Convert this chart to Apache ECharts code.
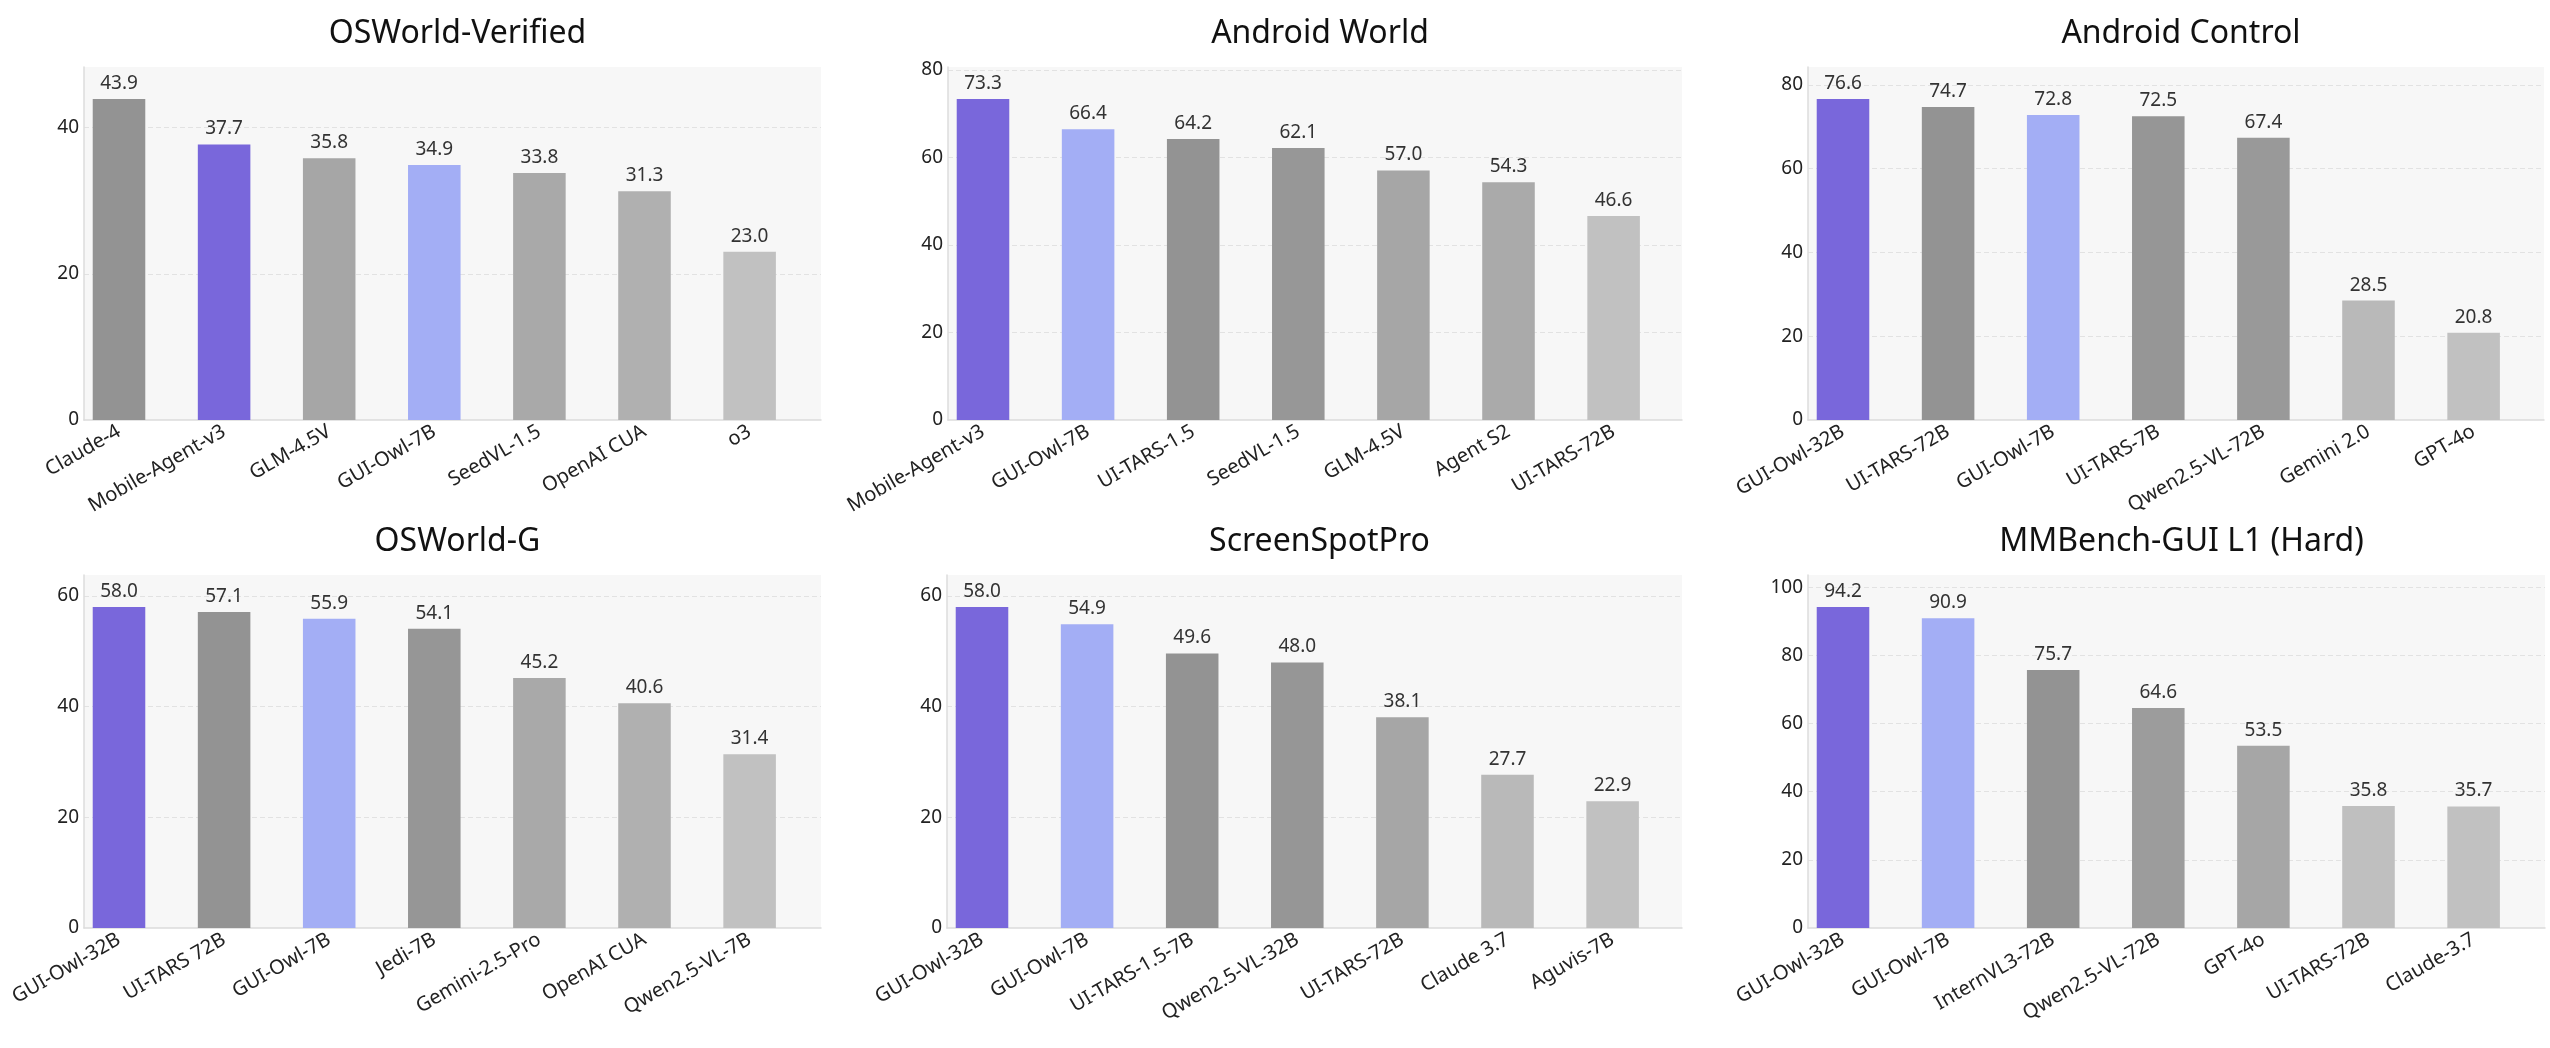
<!DOCTYPE html>
<html>
<head>
<meta charset="utf-8">
<title>GUI agent benchmarks</title>
<script src="https://cdn.jsdelivr.net/npm/echarts@6/dist/echarts.min.js"></script>
<style>
  html, body { margin: 0; padding: 0; background: #fff; }
  #chart { width: 2550px; height: 1048px; }
</style>
</head>
<body>
<div id="chart"></div>
<script>
// ---- data ----
const osworldVerifiedModels = ['Claude-4', 'Mobile-Agent-v3', 'GLM-4.5V', 'GUI-Owl-7B', 'SeedVL-1.5', 'OpenAI CUA', 'o3'];
const osworldVerifiedScores = [43.9, 37.7, 35.8, 34.9, 33.8, 31.3, 23.0];

const androidWorldModels = ['Mobile-Agent-v3', 'GUI-Owl-7B', 'UI-TARS-1.5', 'SeedVL-1.5', 'GLM-4.5V', 'Agent S2', 'UI-TARS-72B'];
const androidWorldScores = [73.3, 66.4, 64.2, 62.1, 57.0, 54.3, 46.6];

const androidControlModels = ['GUI-Owl-32B', 'UI-TARS-72B', 'GUI-Owl-7B', 'UI-TARS-7B', 'Qwen2.5-VL-72B', 'Gemini 2.0', 'GPT-4o'];
const androidControlScores = [76.6, 74.7, 72.8, 72.5, 67.4, 28.5, 20.8];

const osworldGModels = ['GUI-Owl-32B', 'UI-TARS 72B', 'GUI-Owl-7B', 'Jedi-7B', 'Gemini-2.5-Pro', 'OpenAI CUA', 'Qwen2.5-VL-7B'];
const osworldGScores = [58.0, 57.1, 55.9, 54.1, 45.2, 40.6, 31.4];

const screenSpotProModels = ['GUI-Owl-32B', 'GUI-Owl-7B', 'UI-TARS-1.5-7B', 'Qwen2.5-VL-32B', 'UI-TARS-72B', 'Claude 3.7', 'Aguvis-7B'];
const screenSpotProScores = [58.0, 54.9, 49.6, 48.0, 38.1, 27.7, 22.9];

const mmbenchModels = ['GUI-Owl-32B', 'GUI-Owl-7B', 'InternVL3-72B', 'Qwen2.5-VL-72B', 'GPT-4o', 'UI-TARS-72B', 'Claude-3.7'];
const mmbenchScores = [94.2, 90.9, 75.7, 64.6, 53.5, 35.8, 35.7];

// ---- styles ----
const PURPLE = '#7967db';
const BLUE = '#a3aef5';
const FONT = 'Noto Sans';

const panels = [
  { title: 'OSWorld-Verified', cats: osworldVerifiedModels, vals: osworldVerifiedScores,
    colors: ['#939393', PURPLE, '#a6a6a6', BLUE, '#a9a9a9', '#b0b0b0', '#c1c1c1'],
    left: 84, top: 67, width: 737 },
  { title: 'Android World', cats: androidWorldModels, vals: androidWorldScores,
    colors: [PURPLE, BLUE, '#939393', '#979797', '#a6a6a6', '#aaaaaa', '#c1c1c1'],
    left: 948, top: 67, width: 734 },
  { title: 'Android Control', cats: androidControlModels, vals: androidControlScores,
    colors: [PURPLE, '#939393', BLUE, '#969696', '#999999', '#b9b9b9', '#c1c1c1'],
    left: 1808, top: 67, width: 736 },
  { title: 'OSWorld-G', cats: osworldGModels, vals: osworldGScores,
    colors: [PURPLE, '#939393', BLUE, '#969696', '#a9a9a9', '#b0b0b0', '#c1c1c1'],
    left: 84, top: 575, width: 737 },
  { title: 'ScreenSpotPro', cats: screenSpotProModels, vals: screenSpotProScores,
    colors: [PURPLE, BLUE, '#939393', '#969696', '#a6a6a6', '#b9b9b9', '#c1c1c1'],
    left: 947, top: 575, width: 735 },
  { title: 'MMBench-GUI L1 (Hard)', cats: mmbenchModels, vals: mmbenchScores,
    colors: [PURPLE, BLUE, '#939393', '#9c9c9c', '#a6a6a6', '#bfbfbf', '#c1c1c1'],
    left: 1808, top: 575, width: 737 },
];
const PLOT_HEIGHT = 353;
// bars sit a bit left of centre in each plot (narrow left pad, wide right pad)
const CAT_STEP = 105.1;
const LEFT_PAD = 35;

const chart = echarts.init(document.getElementById('chart'));

const option = {
  backgroundColor: '#fff',
  animation: false,
  textStyle: { fontFamily: FONT },
  title: [],
  grid: [],
  xAxis: [],
  yAxis: [],
  series: [],
};

panels.forEach((p, i) => {
  const yMax = Math.max(...p.vals) * 1.1;
  const bg = 2 * i;
  const bars = 2 * i + 1;

  option.title.push({
    text: p.title,
    left: p.left + p.width / 2,
    top: p.top - 54,
    textAlign: 'center',
    textStyle: { fontFamily: FONT, fontSize: 32, fontWeight: 'normal', color: '#111' },
  });

  // background plot: grey fill, spines, y ticks and dashed grid
  option.grid.push({
    left: p.left,
    top: p.top,
    width: p.width,
    height: PLOT_HEIGHT,
    show: true,
    backgroundColor: '#f7f7f7',
    borderWidth: 0,
  });
  option.xAxis.push({
    type: 'value',
    gridIndex: bg,
    min: 0,
    max: 1,
    axisTick: { show: false },
    axisLabel: { show: false },
    splitLine: { show: false },
    axisLine: { show: true, lineStyle: { color: '#dcdcdc', width: 1.5 } },
  });
  option.yAxis.push({
    type: 'value',
    gridIndex: bg,
    min: 0,
    max: yMax,
    interval: 20,
    axisTick: { show: false },
    axisLine: { show: true, lineStyle: { color: '#dcdcdc', width: 1.5 } },
    axisLabel: {
      margin: 5,
      fontSize: 19,
      color: '#222',
      fontFamily: FONT,
      showMaxLabel: false,
      formatter: (v) => (v % 20 === 0 ? String(v) : ''),
    },
    splitLine: {
      show: true,
      showMinLine: false,
      showMaxLine: false,
      lineStyle: { color: '#e2e2e2', type: [5, 3], width: 1 },
    },
  });

  // bar layer
  option.grid.push({
    left: p.left + LEFT_PAD - CAT_STEP / 2,
    top: p.top,
    width: CAT_STEP * p.cats.length,
    height: PLOT_HEIGHT,
    show: false,
  });
  option.xAxis.push({
    type: 'category',
    gridIndex: bars,
    data: p.cats,
    axisTick: { show: false },
    axisLine: { show: false },
    axisLabel: {
      interval: 0,
      rotate: 30,
      margin: 10,
      fontSize: 20,
      color: '#222',
      fontFamily: FONT,
    },
  });
  option.yAxis.push({
    type: 'value',
    gridIndex: bars,
    min: 0,
    max: yMax,
    show: false,
    splitLine: { show: false },
  });
  option.series.push({
    type: 'bar',
    xAxisIndex: bars,
    yAxisIndex: bars,
    barWidth: '50%',
    data: p.vals.map((v, k) => ({ value: v, itemStyle: { color: p.colors[k] } })),
    label: {
      show: true,
      position: 'top',
      distance: 6,
      fontSize: 19,
      color: '#333',
      fontFamily: FONT,
      formatter: (d) => d.value.toFixed(1),
    },
  });
});

chart.setOption(option);
</script>
</body>
</html>
